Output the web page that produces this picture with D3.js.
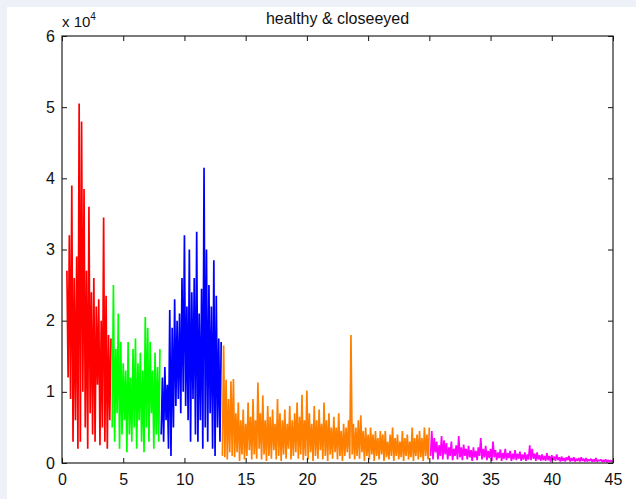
<!DOCTYPE html>
<html>
<head>
<meta charset="utf-8">
<script src="https://cdn.jsdelivr.net/npm/d3@7"></script>
<style>
  html, body { margin: 0; padding: 0; background: #eef1f7; }
  svg { display: block; }
  .tick text { font-family: "Liberation Sans", Arial, sans-serif; font-size: 16px; fill: #111; }
</style>
</head>
<body>
<div id="chart-area"></div>
<script>
// power spectrum, values in units of 1e4, sampled every 0.1 Hz
let step = 0.1;

// red band 0.4 - 4.0
let deltaStart = 0.4;
let delta = [2.7, 1.2, 3.2, 0.9, 3.9, 0.3, 2.6, 0.6, 2.9, 0.2,
  5.05, 0.3, 4.8, 1.0, 3.85, 0.5, 2.7, 0.2, 3.6, 0.7,
  2.4, 0.4, 2.6, 0.3, 2.2, 1.1, 2.3, 0.25, 2.0, 0.5,
  3.45, 0.3, 2.35, 0.2, 1.8, 0.6, 1.75];

// green band 4.1 - 8.0
let thetaStart = 4.1;
let theta = [0.5, 2.5, 0.3, 1.6, 0.7, 2.1, 0.2, 1.7, 0.4, 1.4,
  0.6, 1.3, 0.15, 1.7, 0.4, 1.2, 0.3, 1.6, 0.5, 1.75,
  0.2, 1.4, 0.6, 1.55, 0.3, 1.3, 0.15, 2.05, 0.5, 1.9,
  0.3, 1.7, 0.7, 1.3, 0.2, 1.55, 0.4, 1.35, 0.3, 1.6];

// blue band 8.1 - 13.0
let alphaStart = 8.1;
let alpha = [0.4, 1.2, 0.3, 1.35, 0.6, 1.1, 0.2, 2.15, 0.1, 1.9,
  0.5, 2.3, 0.8, 2.0, 0.9, 2.1, 0.7, 2.6, 1.0, 3.2,
  0.8, 2.2, 0.6, 3.0, 0.3, 2.4, 0.9, 2.6, 0.4, 3.25,
  0.3, 2.1, 0.6, 2.45, 0.2, 4.15, 0.5, 3.0, 0.3, 2.5,
  0.7, 2.2, 0.2, 2.85, 0.1, 2.35, 0.5, 1.75, 0.3, 1.7];

// orange band 13.1 - 30.0
let betaStart = 13.1;
let beta = [0.1, 1.65, 0.08, 1.17, 0.05, 0.9, 0.15, 1.15, 0.1, 1.18,
  0.08, 0.7, 0.15, 0.85, 0.03, 0.6, 0.12, 0.75, 0.05, 0.55,
  0.1, 0.85, 0.18, 0.65, 0.05, 0.9, 0.12, 0.6, 0.06, 1.13,
  0.2, 0.7, 0.05, 0.95, 0.12, 0.6, 0.03, 0.8, 0.1, 0.65,
  0.06, 0.75, 0.18, 0.55, 0.05, 0.9, 0.1, 0.7, 0.03, 0.6,
  0.12, 0.75, 0.06, 0.55, 0.2, 0.8, 0.05, 0.6, 0.1, 0.7,
  0.15, 0.85, 0.06, 0.65, 0.12, 0.96, 0.04, 0.6, 0.1, 1.02,
  0.05, 0.7, 0.15, 0.55, 0.03, 0.8, 0.1, 0.6, 0.06, 0.75,
  0.18, 0.55, 0.05, 0.85, 0.1, 0.6, 0.03, 0.7, 0.12, 0.5,
  0.06, 0.65, 0.15, 0.5, 0.05, 0.7, 0.1, 0.45, 0.03, 0.55,
  0.1, 0.5, 0.15, 0.6, 0.06, 1.8, 0.12, 0.55, 0.05, 0.5,
  0.1, 0.6, 0.06, 0.67, 0.15, 0.45, 0.03, 0.5, 0.1, 0.4,
  0.05, 0.5, 0.12, 0.4, 0.03, 0.45, 0.1, 0.35, 0.05, 0.45,
  0.12, 0.4, 0.03, 0.45, 0.08, 0.3, 0.05, 0.4, 0.1, 0.5,
  0.03, 0.35, 0.1, 0.4, 0.05, 0.3, 0.08, 0.45, 0.03, 0.35,
  0.1, 0.4, 0.05, 0.3, 0.08, 0.5, 0.03, 0.35, 0.1, 0.4,
  0.05, 0.45, 0.08, 0.35, 0.03, 0.5, 0.1, 0.4, 0.05, 0.5];

// magenta band 30.1 - 45.0
let gammaStart = 30.1;
let gamma = [0.1, 0.45, 0.05, 0.35, 0.15, 0.3, 0.05, 0.25, 0.1, 0.38,
  0.05, 0.32, 0.12, 0.28, 0.05, 0.22, 0.1, 0.3, 0.04, 0.2,
  0.1, 0.25, 0.05, 0.38, 0.08, 0.22, 0.04, 0.26, 0.1, 0.2,
  0.05, 0.24, 0.08, 0.18, 0.03, 0.22, 0.08, 0.17, 0.04, 0.22,
  0.1, 0.35, 0.05, 0.2, 0.08, 0.24, 0.04, 0.17, 0.07, 0.2,
  0.03, 0.3, 0.08, 0.18, 0.04, 0.15, 0.07, 0.19, 0.03, 0.14,
  0.06, 0.2, 0.04, 0.14, 0.07, 0.17, 0.03, 0.13, 0.05, 0.18,
  0.04, 0.13, 0.06, 0.16, 0.03, 0.12, 0.05, 0.15, 0.03, 0.12,
  0.05, 0.25, 0.04, 0.2, 0.06, 0.13, 0.03, 0.15, 0.05, 0.11,
  0.03, 0.12, 0.04, 0.1, 0.03, 0.14, 0.04, 0.1, 0.02, 0.11,
  0.04, 0.09, 0.03, 0.12, 0.04, 0.08, 0.02, 0.09, 0.03, 0.07,
  0.02, 0.08, 0.04, 0.1, 0.02, 0.07, 0.03, 0.08, 0.02, 0.06,
  0.03, 0.07, 0.02, 0.08, 0.03, 0.06, 0.02, 0.07, 0.02, 0.05,
  0.03, 0.06, 0.02, 0.05, 0.02, 0.07, 0.02, 0.04, 0.03, 0.05,
  0.02, 0.04, 0.02, 0.05, 0.01, 0.04, 0.02, 0.035, 0.02, 0.03];

let xTicks = [0, 5, 10, 15, 20, 25, 30, 35, 40, 45];
let yTicks = [0, 1, 2, 3, 4, 5, 6];
let titleText = "healthy & closeeyed";

let bands = [
  { start: deltaStart, values: delta, color: "#ff0000" },
  { start: thetaStart, values: theta, color: "#00ff00" },
  { start: alphaStart, values: alpha, color: "#0000ff" },
  { start: betaStart, values: beta, color: "#ff8000" },
  { start: gammaStart, values: gamma, color: "#ff00ff" }
];

let W = 636, H = 499;
let margin = { top: 36, right: 23, bottom: 36, left: 62 };
let width = W - margin.left - margin.right,
  height = H - margin.top - margin.bottom;

let root = d3.select("#chart-area")
  .append("svg")
  .attr("width", W)
  .attr("height", H);

// white figure area over the light page background
root.append("rect")
  .attr("x", 7).attr("y", 7)
  .attr("width", W - 7).attr("height", H - 7)
  .attr("fill", "#ffffff");

let svg = root.append("g")
  .attr("transform", "translate(" + margin.left + "," + margin.top + ")");

let x = d3.scaleLinear().domain([0, 45]).range([0, width]);
let y = d3.scaleLinear().domain([0, 6]).range([height, 0]);

let line = d3.line()
  .x(d => x(d[0]))
  .y(d => y(d[1]));

bands.forEach(b => {
  let pts = b.values.map((v, i) => [b.start + i * step, v]);
  svg.append("path")
    .datum(pts)
    .attr("fill", "none")
    .attr("stroke", b.color)
    .attr("stroke-width", 1.7)
    .attr("stroke-linejoin", "bevel")
    .attr("d", line);
});

// axes, MATLAB style: ticks pointing inward on all four sides
let tickLen = 5;
svg.append("g")
  .attr("transform", "translate(0," + height + ")")
  .call(d3.axisBottom(x).tickValues(xTicks).tickSizeInner(-tickLen).tickSizeOuter(0).tickPadding(11))
  .call(g => g.select(".domain").remove());

svg.append("g")
  .call(d3.axisLeft(y).tickValues(yTicks).tickFormat(d3.format("d")).tickSizeInner(-tickLen).tickSizeOuter(0).tickPadding(7))
  .call(g => g.select(".domain").remove());

svg.append("g")
  .call(d3.axisTop(x).tickValues(xTicks).tickSizeInner(-tickLen).tickSizeOuter(0).tickFormat(""))
  .call(g => g.select(".domain").remove());

svg.append("g")
  .attr("transform", "translate(" + width + ",0)")
  .call(d3.axisRight(y).tickValues(yTicks).tickSizeInner(-tickLen).tickSizeOuter(0).tickFormat(""))
  .call(g => g.select(".domain").remove());

svg.selectAll(".tick line").attr("stroke", "#111");

svg.append("rect")
  .attr("width", width)
  .attr("height", height)
  .attr("fill", "none")
  .attr("stroke", "#222")
  .attr("stroke-width", 1.2);

// exponent label
let expo = svg.append("text")
  .attr("x", 0)
  .attr("y", -9)
  .style("font-family", "Liberation Sans, Arial, sans-serif")
  .style("font-size", "15px")
  .style("fill", "#111");
expo.append("tspan").text("x 10");
expo.append("tspan").attr("dy", -7).style("font-size", "10px").text("4");

// title
svg.append("text")
  .attr("x", width / 2)
  .attr("y", -12)
  .attr("text-anchor", "middle")
  .style("font-family", "Liberation Sans, Arial, sans-serif")
  .style("font-size", "16px")
  .style("fill", "#111")
  .text(titleText);
</script>
</body>
</html>
